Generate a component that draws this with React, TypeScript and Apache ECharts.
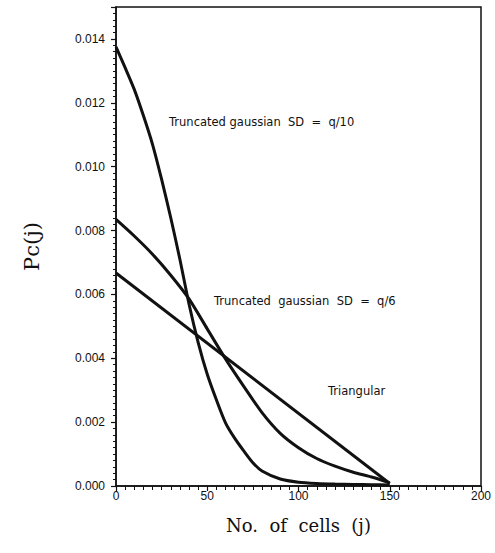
import React, { useEffect, useRef } from "react";
import * as echarts from "echarts";

// Truncated gaussian, SD = q/10
const cellsNarrow = [0, 5, 10, 15, 20, 25, 30, 35, 40, 45, 50, 55, 60, 65, 70, 75, 80, 90, 100, 110, 120, 130, 140, 150];
const pcNarrow = [
  0.01375, 0.0131, 0.01242, 0.0116, 0.0107, 0.0096, 0.0084, 0.0071, 0.0057, 0.0045, 0.0035, 0.0027,
  0.00198, 0.0015, 0.0011, 0.00073, 0.00047, 0.00022, 0.00012, 0.00008, 0.00006, 0.00005, 0.00004, 0.00003,
];

// Truncated gaussian, SD = q/6
const cellsWide = [0, 10, 20, 30, 40, 50, 60, 70, 80, 90, 100, 110, 120, 130, 140, 150];
const pcWide = [
  0.00835, 0.00783, 0.00726, 0.0066, 0.00586, 0.00492, 0.00398, 0.00312, 0.0023, 0.00165, 0.0012,
  0.00086, 0.00062, 0.00043, 0.00028, 0.0001,
];

// Triangular
const cellsTriangular = [0, 150];
const pcTriangular = [0.00667, 0.00008];

const curveLabels = [
  { text: "Truncated gaussian  SD  =  q/10", x: 169, y: 116 },
  { text: "Truncated  gaussian  SD  =  q/6", x: 214, y: 295 },
  { text: "Triangular", x: 328, y: 385 },
];

const pairs = (xs: number[], ys: number[]) => xs.map((x, i) => [x, ys[i]]);

export default function App() {
  const ref = useRef<HTMLDivElement>(null);

  useEffect(() => {
    document.body.style.margin = "0";
    const chart = echarts.init(ref.current!, null, { renderer: "svg" });
    const curve = { width: 3, color: "#111" };
    chart.setOption({
      animation: false,
      backgroundColor: "#fff",
      grid: {
        left: 116,
        right: 14,
        top: 7,
        bottom: 67,
        show: true,
        borderColor: "#111",
        borderWidth: 1.5,
      },
      xAxis: {
        type: "value",
        min: 0,
        max: 200,
        interval: 50,
        name: "No.  of  cells  (j)",
        nameLocation: "middle",
        nameGap: 30,
        nameTextStyle: { fontFamily: "DejaVu Serif", fontSize: 18, color: "#111" },
        axisLine: { lineStyle: { color: "#111", width: 1.5 } },
        axisTick: { inside: false, length: 5, lineStyle: { color: "#111", width: 1.2 } },
        minorTick: { show: true, splitNumber: 10, length: 4, lineStyle: { color: "#111", width: 1 } },
        splitLine: { show: false },
        axisLabel: { fontFamily: "Liberation Sans", fontSize: 12, color: "#111", margin: 4 },
      },
      yAxis: {
        type: "value",
        min: 0,
        max: 0.015,
        interval: 0.002,
        name: "Pc(j)",
        nameLocation: "middle",
        nameGap: 74,
        nameRotate: 90,
        nameTextStyle: { fontFamily: "DejaVu Serif", fontSize: 21, color: "#111" },
        axisLine: { lineStyle: { color: "#111", width: 1.5 } },
        axisTick: { inside: false, length: 5, lineStyle: { color: "#111", width: 1.2 } },
        minorTick: { show: true, splitNumber: 10, length: 3, lineStyle: { color: "#111", width: 1 } },
        splitLine: { show: false },
        axisLabel: {
          fontFamily: "Liberation Sans",
          fontSize: 12,
          color: "#111",
          margin: 11,
          showMaxLabel: false,
          formatter: (v: number) => v.toFixed(3),
        },
      },
      series: [
        {
          type: "line",
          data: pairs(cellsNarrow, pcNarrow),
          smooth: 0.25,
          showSymbol: false,
          lineStyle: curve,
        },
        {
          type: "line",
          data: pairs(cellsWide, pcWide),
          smooth: 0.25,
          showSymbol: false,
          lineStyle: curve,
        },
        {
          type: "line",
          data: pairs(cellsTriangular, pcTriangular),
          showSymbol: false,
          lineStyle: curve,
        },
      ],
      graphic: curveLabels.map((l) => ({
        type: "text",
        x: l.x,
        y: l.y,
        style: {
          text: l.text,
          fontFamily: "DejaVu Sans",
          fontSize: 11.5,
          fill: "#111",
        },
      })),
    });
    return () => chart.dispose();
  }, []);

  return <div ref={ref} style={{ width: 495, height: 553 }} />;
}
